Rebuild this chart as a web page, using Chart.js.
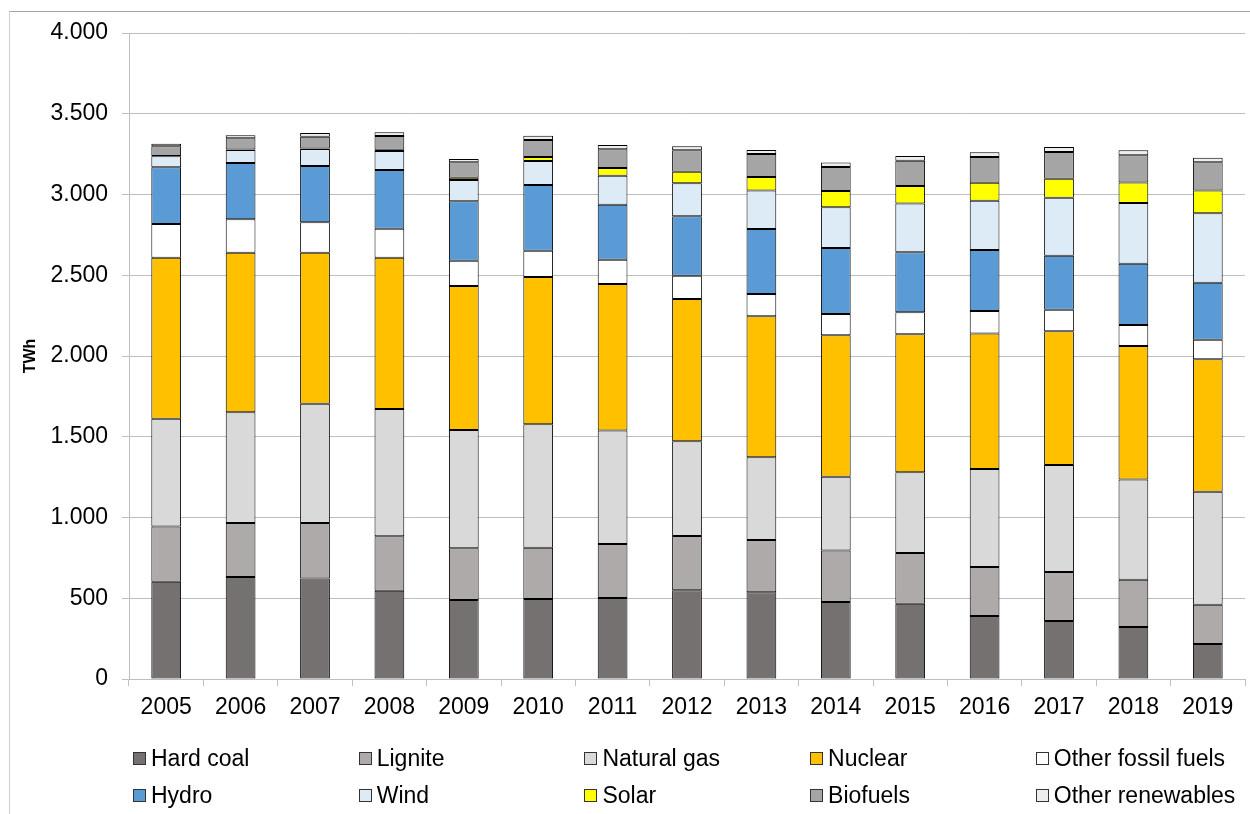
<!DOCTYPE html>
<html>
<head>
<meta charset="utf-8">
<title>Electricity generation by source</title>
<script src="https://cdn.jsdelivr.net/npm/chart.js@4.4.1/dist/chart.umd.min.js"></script>
<style>
  html, body { margin: 0; padding: 0; background: #fff; }
  #wrap { position: relative; width: 1250px; height: 814px; overflow: hidden; font-family: Arial, "Liberation Sans", sans-serif; }
  #frame { position: absolute; left: 9px; top: 11px; width: 1300px; height: 900px; border-top: 1px solid #a6a6a6; border-left: 1px solid #d0d0d0; }
  #chart { position: absolute; left: 0; top: 0; }
  .item { position: absolute; height: 26px; display: flex; align-items: center; font-size: 23px; color: #000; white-space: nowrap; }
  .box { width: 11px; height: 11px; border: 1px solid #333; margin-right: 5px; }
</style>
</head>
<body>
<div id="wrap">
  <div id="frame"></div>
  <canvas id="chart" width="1250" height="814"></canvas>
  <div id="legend"></div>
</div>
<script>
var years = ['2005', '2006', '2007', '2008', '2009', '2010', '2011', '2012', '2013', '2014', '2015', '2016', '2017', '2018', '2019'];

// TWh per source, bottom of the stack first
var hardCoal       = [602, 632, 623, 547, 489, 495, 502, 549, 537, 477, 466, 390, 359, 322, 217];
var lignite        = [343, 334, 343, 337, 320, 318, 334, 336, 324, 318, 314, 304, 304, 293, 243];
var naturalGas     = [667, 685, 739, 788, 733, 764, 702, 587, 512, 458, 500, 606, 662, 621, 700];
var nuclear        = [997, 989, 935, 937, 891, 912, 908, 881, 873, 875, 854, 840, 828, 826, 820];
var otherFossil    = [208, 206, 188, 179, 157, 163, 150, 144, 138, 132, 137, 139, 134, 130, 121];
var hydro          = [351, 349, 349, 364, 368, 407, 341, 368, 402, 409, 371, 377, 334, 379, 353];
var wind           = [69, 81, 104, 118, 132, 148, 179, 204, 238, 252, 302, 306, 359, 376, 430];
var solar          = [1, 2, 4, 7, 14, 25, 48, 72, 84, 101, 109, 111, 118, 128, 140];
var biofuels       = [60, 70, 73, 85, 95, 105, 116, 133, 143, 148, 156, 159, 165, 168, 175];
var otherRenewable = [16, 19, 23, 23, 21, 27, 26, 24, 25, 28, 29, 29, 31, 31, 29];

var yTicks = [0, 500, 1000, 1500, 2000, 2500, 3000, 3500, 4000];

var fontFamily = 'Arial, "Liberation Sans", sans-serif';

function series(label, data, color) {
    return {
        label: label,
        data: data,
        backgroundColor: color,
        borderColor: '#000',
        borderWidth: 1,
        borderSkipped: false,
        categoryPercentage: 0.8,
        barPercentage: 0.5
    };
}

var ctx = document.getElementById('chart').getContext('2d');
var chart = new Chart(ctx, {
    type: 'bar',
    data: {
        labels: years,
        datasets: [
            series('Hard coal', hardCoal, '#767171'),
            series('Lignite', lignite, '#aeaaaa'),
            series('Natural gas', naturalGas, '#d9d9d9'),
            series('Nuclear', nuclear, '#ffc000'),
            series('Other fossil fuels', otherFossil, '#ffffff'),
            series('Hydro', hydro, '#5b9bd5'),
            series('Wind', wind, '#ddebf7'),
            series('Solar', solar, '#ffff00'),
            series('Biofuels', biofuels, '#a5a5a5'),
            series('Other renewables', otherRenewable, '#ededed')
        ]
    },
    options: {
        responsive: false,
        animation: false,
        layout: {
            padding: { top: 33, right: 5, bottom: 0, left: 0 }
        },
        plugins: {
            legend: { display: false },
            tooltip: { enabled: false }
        },
        scales: {
            x: {
                stacked: true,
                afterFit: function (scale) { scale.height = 135; },
                grid: {
                    drawOnChartArea: false,
                    tickLength: 7,
                    color: '#bfbfbf'
                },
                border: { color: '#bfbfbf' },
                ticks: {
                    padding: 8,
                    color: '#000',
                    font: { family: fontFamily, size: 23 }
                }
            },
            y: {
                stacked: true,
                min: 0,
                max: 4000,
                afterFit: function (scale) { scale.width = 129; },
                afterBuildTicks: function (scale) {
                    scale.ticks = yTicks.map(function (v) { return { value: v }; });
                },
                grid: {
                    color: '#bfbfbf',
                    tickLength: 7
                },
                border: { color: '#bfbfbf' },
                title: {
                    display: true,
                    text: 'TWh',
                    color: '#000',
                    padding: { top: 21, bottom: 0 },
                    font: { family: fontFamily, size: 16, weight: 'bold' }
                },
                ticks: {
                    padding: 14,
                    color: '#000',
                    font: { family: fontFamily, size: 23 },
                    callback: function (v) {
                        return v.toString().replace(/\B(?=(\d{3})+(?!\d))/g, '.');
                    }
                }
            }
        }
    }
});

// legend in five columns, two rows
var legendEl = document.getElementById('legend');
chart.data.datasets.forEach(function (ds, i) {
    var item = document.createElement('div');
    item.className = 'item';
    item.style.left = (133 + (i % 5) * 225.7) + 'px';
    item.style.top = (i < 5 ? 745 : 782) + 'px';
    var box = document.createElement('span');
    box.className = 'box';
    box.style.background = ds.backgroundColor;
    item.appendChild(box);
    item.appendChild(document.createTextNode(ds.label));
    legendEl.appendChild(item);
});
</script>
</body>
</html>
